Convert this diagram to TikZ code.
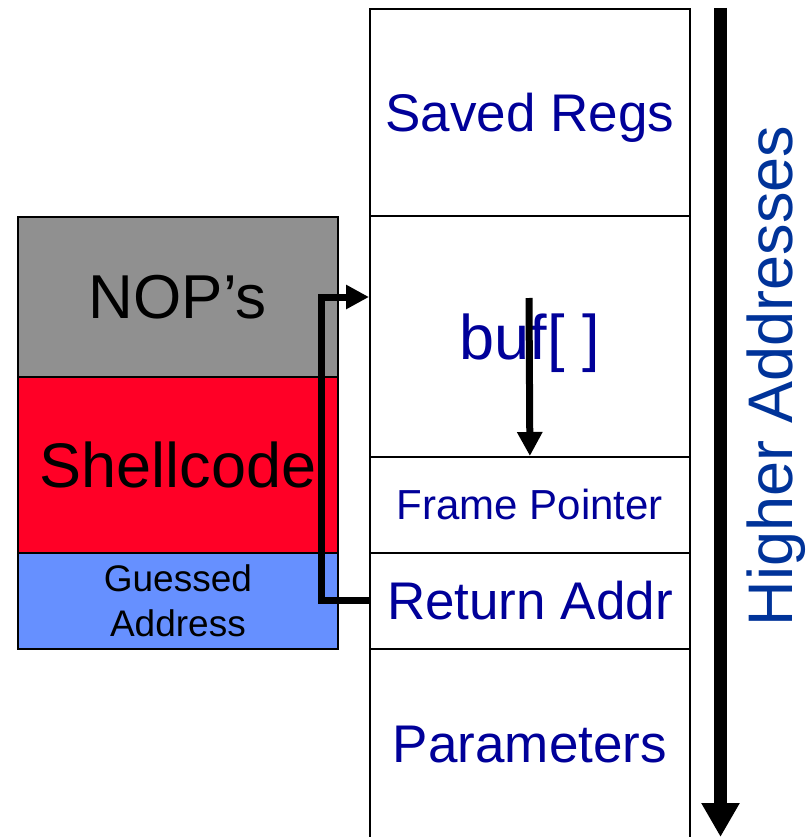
\documentclass[tikz,border=0pt]{standalone}
\usepackage{fontspec}
\setmainfont{Liberation Sans}
\usetikzlibrary{arrows.meta}
\definecolor{stacktext}{RGB}{0,0,153}
\definecolor{addrtext}{RGB}{0,51,153}
\definecolor{nopgray}{RGB}{144,144,144}
\definecolor{shellred}{RGB}{255,0,38}
\definecolor{guessblue}{RGB}{102,144,255}
\begin{document}
\begin{tikzpicture}[x=1pt,y=-1pt,
  slot/.style={draw, line width=1.8pt, minimum width=320pt, inner sep=0pt,
    anchor=north west, text=stacktext},
  payload/.style={draw, line width=1.8pt, minimum width=320pt, inner sep=0pt,
    anchor=north west, text=black},
  fs/.style={font=\fontsize{#1}{#1}\selectfont},
  jumparrow/.style={line width=7pt, line join=miter,
    -{Triangle[length=23pt,width=23pt]}},
  fillarrow/.style={line width=7pt, -{Triangle[length=24pt,width=24pt]}},
  addrarrow/.style={line width=12.5pt, -{Triangle[length=34pt,width=36pt]}}]
\useasboundingbox (0,0) rectangle (809,837);

% injected payload
\node[payload, fill=nopgray, minimum height=160pt, fs=62] (nop) at (17,216) {NOP’s};
\node[payload, fill=shellred, minimum height=176pt, fs=63] (shell) at (17,376) {Shellcode};
\node[payload, fill=guessblue, minimum height=96pt, align=center,
  font=\fontsize{37}{45}\selectfont] (guess) at (17,552) {Guessed\\Address};

% stack frame
\node[slot, minimum height=207pt, fs=53, text depth=0pt] (saved) at (369,8) {Saved Regs};
\node[slot, minimum height=241pt, fs=63, text depth=0pt] (buf) at (369,215) {buf[ ]};
\node[slot, minimum height=96pt, fs=42] (fp) at (369,456) {Frame Pointer};
\node[slot, minimum height=96pt, fs=53] (ret) at (369,552) {Return Addr};
\node[slot, minimum height=192pt, fs=53] (params) at (369,648) {Parameters};

% overwritten return address jumps back into the NOP sled
\coordinate (sled) at (369,297);
\draw[jumparrow] (ret.west) -- ++(-48,0) |- (sled);

% buffer fills towards the return address
\coordinate (bufstart) at (529,298);
\draw[fillarrow] (bufstart) -- (fp.north);

% address direction
\coordinate (atop) at (720.5,8);
\coordinate (abot) at (720.5,837);
\draw[addrarrow] (atop) -- (abot);
\node[rotate=90, text=addrtext, fs=63, inner sep=0pt] (hi) at (776,376) {Higher Addresses};
\end{tikzpicture}
\end{document}
